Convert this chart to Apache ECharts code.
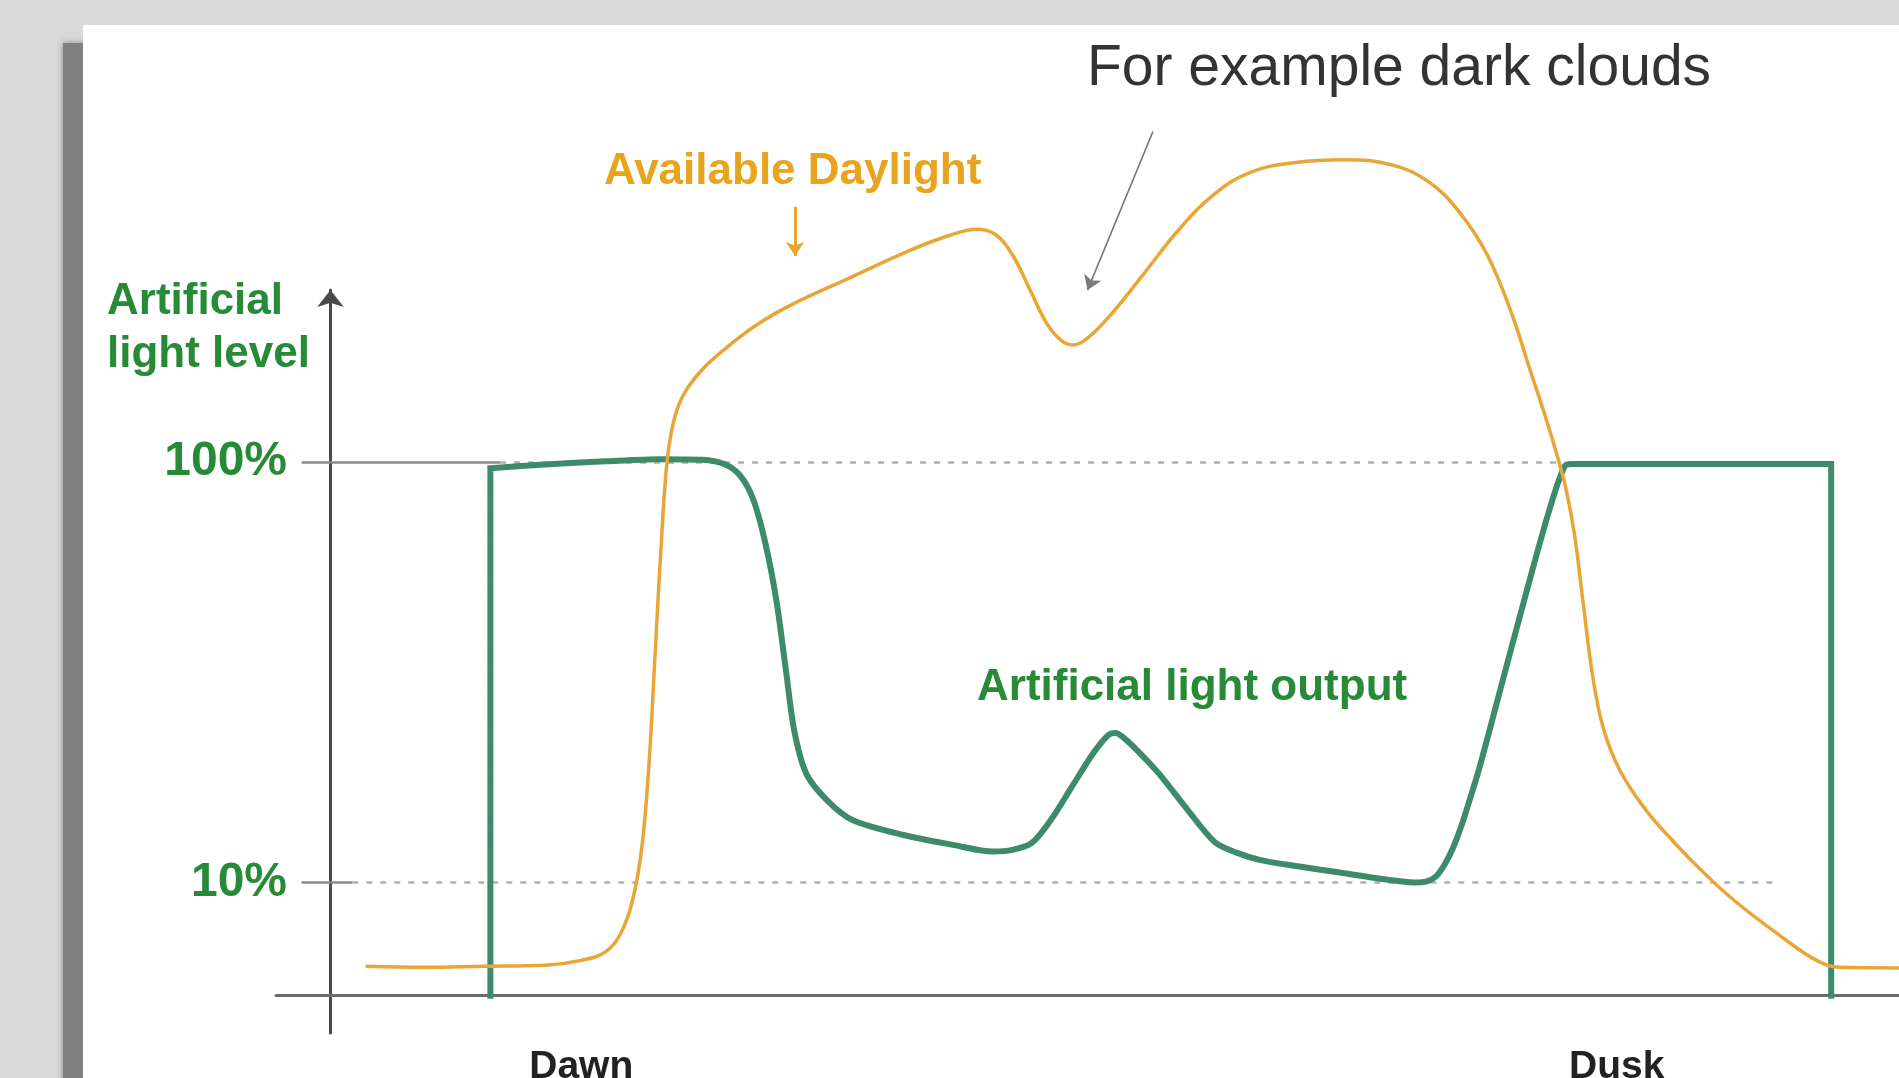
<!DOCTYPE html>
<html>
<head>
<meta charset="utf-8">
<script src="https://cdn.jsdelivr.net/npm/echarts@6/dist/echarts.min.js"></script>
<style>
html,body{margin:0;padding:0;background:#d9d9d9;}
#chart{width:1899px;height:1078px;}
</style>
</head>
<body>
<div id="chart"></div>
<script>
// ---- Data (x: time units, y: light-level units where 100 = the 100% line) ----
const daylightX = [29, 77, 127, 177, 207, 227, 239, 249, 257, 263, 268, 273, 278, 284, 292, 307, 327, 352, 382, 427, 477, 512, 534, 549, 563, 578, 592, 604, 613, 624, 642, 670, 700, 730, 760, 797, 837, 877, 907, 932, 955, 975, 990, 1003, 1013, 1020, 1027, 1034, 1042, 1051, 1065, 1087, 1105, 1125, 1157, 1197, 1227, 1247, 1295];
const daylightY = [5.5, 5.3, 5.5, 5.7, 6.6, 8.2, 11.4, 17.5, 27.7, 43.6, 64.0, 84.4, 100.3, 108.2, 112.8, 117.3, 121.4, 125.7, 129.6, 134.3, 139.5, 142.5, 143.6, 142.6, 138.8, 132.0, 125.7, 122.6, 121.9, 123.0, 127.0, 134.8, 143.4, 150.2, 154.3, 156.1, 156.6, 155.6, 152.4, 146.8, 138.8, 127.9, 117.5, 108.5, 101.0, 95.0, 86.5, 74.0, 60.0, 50.0, 42.0, 34.5, 29.8, 25.0, 18.2, 11.2, 6.6, 5.3, 5.2];

// null = pen lift (sharp corners between the straight step parts and the curve)
const outputX = [132, 132, null, 132, 177, 227, 272, 307, 325, 338, 349, 359, 368, 376, 383, 393, 410, 431, 473, 515, 547, 563, 579, 595, 612, 630, 642, 648, 655, 668, 684, 707, 730, 748, 768, 800, 832, 870, 895, 905, 913, 920, 927, 934, 941, 949, 966, 987, 1007, 1019, 1025, null, 1025, 1239, null, 1239, 1239];
const outputY = [0, 98.8, null, 98.8, 99.5, 100.1, 100.5, 100.4, 99.6, 97.5, 93.0, 84.8, 74.2, 61.0, 49.5, 41.5, 36.6, 32.9, 30.1, 28.2, 27.0, 27.3, 28.6, 33.0, 39.1, 45.5, 48.8, 49.2, 48.3, 45.5, 41.6, 35.0, 28.8, 26.8, 25.4, 24.2, 23.1, 21.8, 21.2, 21.4, 22.4, 24.6, 27.8, 32.0, 37.0, 43.0, 57.5, 75.3, 91.5, 99.2, 99.6, null, 99.6, 99.6, null, 99.6, 0];

const levelTickValues = [21.2, 100];
const levelTickLabels = ['10%', '100%'];
const timeTickValues = [207, 1062];
const timeTickLabels = ['Dawn', 'Dusk'];

// reference lines: [fromX, toX, level, dashed]
const refLines = [[0, 140, 100, false], [140, 1019, 100, true], [0, 18, 21.2, false], [18, 1192, 21.2, true]];
// annotation arrows: [fromX, fromY, toX, toY]
const cloudArrow = [679, 161.9, 625, 132.2];
const daylightArrow = [383.5, 147.8, 383.5, 138.6];

// ---- Build ----
const FONT = '"Liberation Sans", Arial, Helvetica, sans-serif';
const GREEN_TXT = '#278a37';
const GREEN_LINE = '#3c8b6a';
const ORANGE = '#e9a535';

const daylightData = daylightX.map((x, i) => [x, daylightY[i]]);
const outputData = outputX.map((x, i) => x === null ? ['-', '-'] : [x, outputY[i]]);

function pick(values, labels, v) {
  for (let i = 0; i < values.length; i++) if (Math.abs(values[i] - v) < 0.01) return labels[i];
  return '';
}

const chart = echarts.init(document.getElementById('chart'), null, {renderer: 'canvas'});
chart.setOption({
  backgroundColor: '#d9d9d9',
  animation: false,
  grid: [
    {left: 276, right: 0, top: 290, bottom: 45, outerBoundsMode: 'none', containLabel: false},
    {left: 276, right: 0, top: 3, bottom: 45, outerBoundsMode: 'none', containLabel: false}
  ],
  xAxis: [
    {
      type: 'value', gridIndex: 0, min: -45, max: 1295,
      axisLine: {show: true, onZero: true, lineStyle: {color: '#6b6b6b', width: 3}},
      axisTick: {show: false},
      splitLine: {show: false},
      axisLabel: {
        customValues: timeTickValues,
        formatter: v => pick(timeTickValues, timeTickLabels, v),
        margin: 15, fontSize: 39, fontWeight: 'bold', color: '#222', fontFamily: FONT
      }
    },
    {type: 'value', gridIndex: 1, min: -45, max: 1295, show: false}
  ],
  yAxis: [
    {
      type: 'value', gridIndex: 0, min: -7, max: 132.2,
      axisLine: {show: true, onZero: true, symbol: ['none', 'arrow'], symbolSize: [20, 17],
        lineStyle: {color: '#4a4a4a', width: 3}},
      axisTick: {show: true, customValues: levelTickValues, length: 29, inside: false,
        lineStyle: {color: '#8a8a8a', width: 2.5}},
      splitLine: {show: false},
      axisLabel: {
        customValues: levelTickValues,
        formatter: v => pick(levelTickValues, levelTickLabels, v),
        margin: -11, fontSize: 48, fontWeight: 'bold', color: GREEN_TXT, fontFamily: FONT,
        padding: [0, 0, 30, 0]
      }
    },
    {type: 'value', gridIndex: 1, min: -7, max: 186, show: false}
  ],
  series: [
    {
      type: 'line', xAxisIndex: 0, yAxisIndex: 0, data: [], silent: true, z: 1,
      markLine: {
        z: 1, silent: true, symbol: 'none', animation: false, label: {show: false},
        emphasis: {disabled: true},
        data: refLines.map(r => [
          {coord: [r[0], r[2]], lineStyle: {color: r[3] ? '#b0b0b0' : '#8a8a8a', width: 2.5, type: r[3] ? [6, 8] : 'solid'}},
          {coord: [r[1], r[2]]}
        ])
      }
    },
    {
      name: 'Artificial light output', type: 'line', xAxisIndex: 0, yAxisIndex: 0,
      data: outputData, smooth: 0.3, symbol: 'none', showSymbol: false, connectNulls: false,
      clip: false, z: 3, silent: true,
      lineStyle: {color: GREEN_LINE, width: 6, cap: 'square', join: 'miter'}
    },
    {
      name: 'Available Daylight', type: 'line', xAxisIndex: 0, yAxisIndex: 0,
      data: daylightData, smooth: 0.4, symbol: 'none', showSymbol: false,
      clip: false, z: 4, silent: true,
      lineStyle: {color: ORANGE, width: 3.5}
    },
    {
      type: 'line', xAxisIndex: 1, yAxisIndex: 1, data: [], silent: true, z: 5,
      markLine: {
        z: 6, silent: true, animation: false, label: {show: false},
        symbol: ['none', 'arrow'], symbolSize: 14,
        emphasis: {disabled: true},
        data: [
          [{coord: [cloudArrow[0], cloudArrow[1]], lineStyle: {color: '#7a7a7a', width: 1.6, type: 'solid'}, itemStyle: {color: '#7a7a7a'}},
           {coord: [cloudArrow[2], cloudArrow[3]]}],
          [{coord: [daylightArrow[0], daylightArrow[1]], lineStyle: {color: ORANGE, width: 3, type: 'solid'}, itemStyle: {color: ORANGE}},
           {coord: [daylightArrow[2], daylightArrow[3]]}]
        ]
      }
    }
  ],
  graphic: [
    {type: 'rect', z: -10, silent: true, shape: {x: 63, y: 43, width: 40, height: 1100},
      style: {fill: '#808080', shadowBlur: 6, shadowColor: '#8a8a8a'}},
    {type: 'rect', z: -9, silent: true, shape: {x: 83, y: 25, width: 1900, height: 1100}, style: {fill: '#ffffff'}},
    {type: 'text', z: 50, silent: true, x: 1087, y: 69,
      style: {text: 'For example dark clouds', fill: '#333333', fontSize: 57, fontFamily: FONT, verticalAlign: 'middle', align: 'left'}},
    {type: 'text', z: 50, silent: true, x: 604, y: 172,
      style: {text: 'Available Daylight', fill: '#e8a41f', fontSize: 44, fontWeight: 'bold', fontFamily: FONT, verticalAlign: 'middle', align: 'left'}},
    {type: 'text', z: 50, silent: true, x: 977, y: 688,
      style: {text: 'Artificial light output', fill: GREEN_TXT, fontSize: 44, fontWeight: 'bold', fontFamily: FONT, verticalAlign: 'middle', align: 'left'}},
    {type: 'text', z: 50, silent: true, x: 107, y: 302,
      style: {text: 'Artificial', fill: GREEN_TXT, fontSize: 44, fontWeight: 'bold', fontFamily: FONT, verticalAlign: 'middle', align: 'left'}},
    {type: 'text', z: 50, silent: true, x: 107, y: 355,
      style: {text: 'light level', fill: GREEN_TXT, fontSize: 44, fontWeight: 'bold', fontFamily: FONT, verticalAlign: 'middle', align: 'left'}}
  ]
});
</script>
</body>
</html>
